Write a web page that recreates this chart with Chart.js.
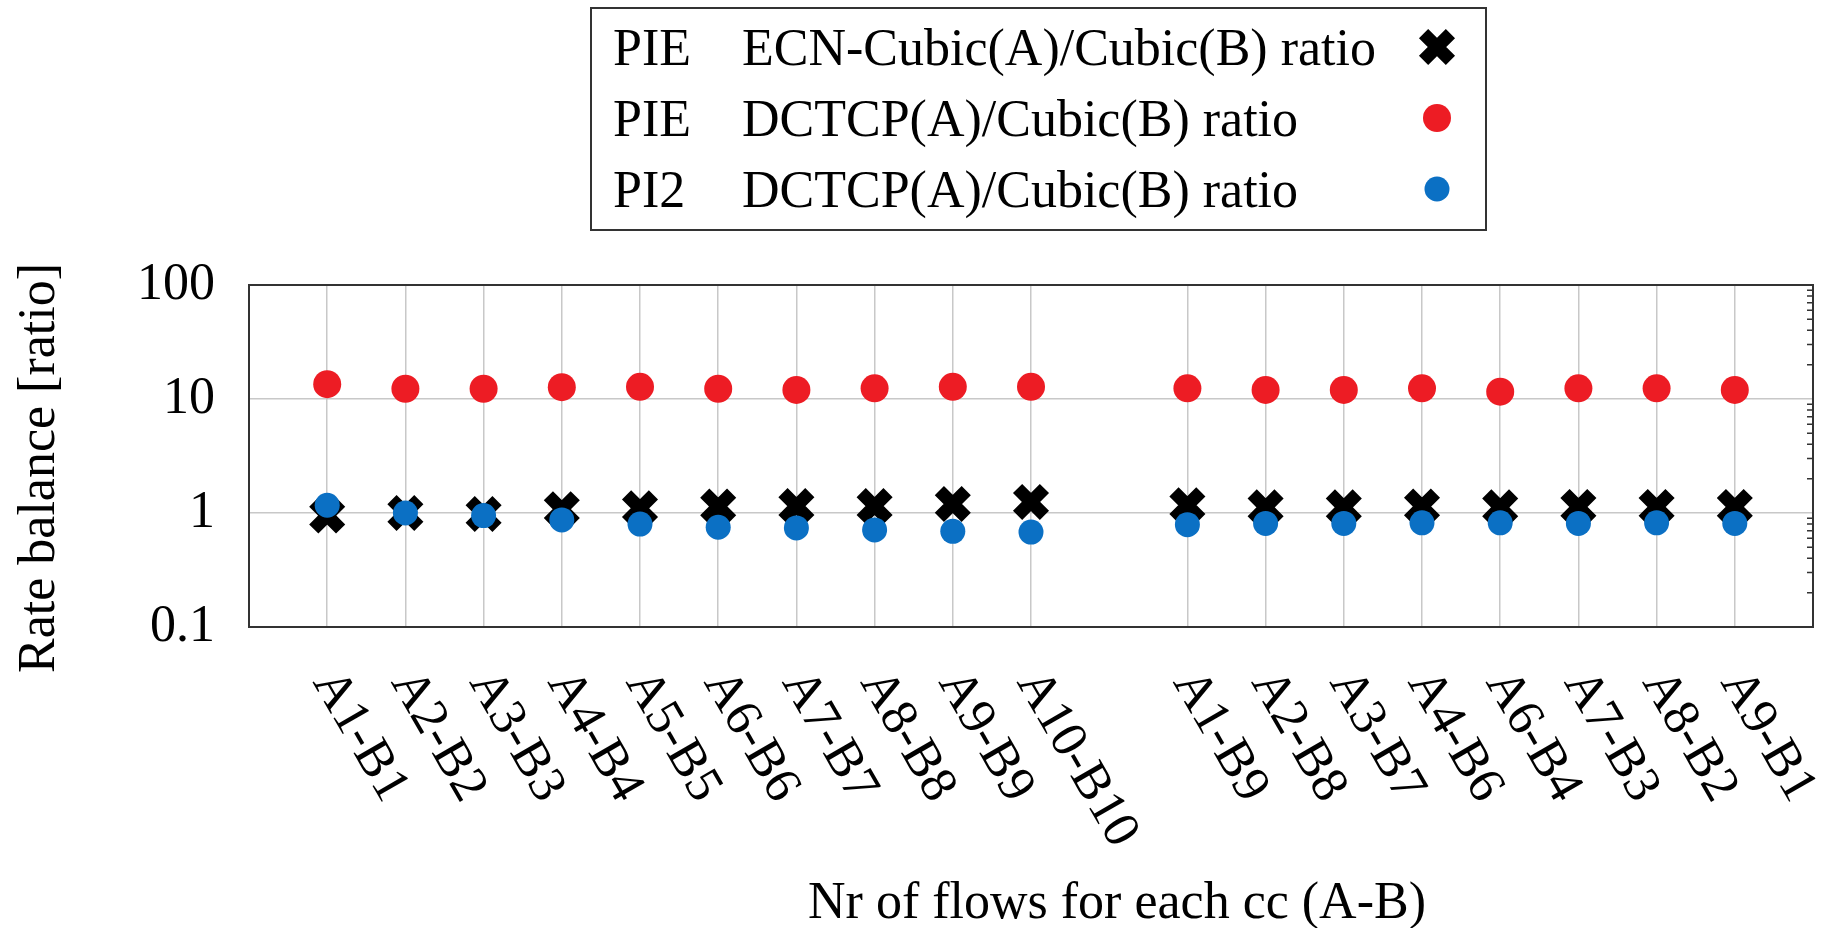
<!DOCTYPE html>
<html>
<head>
<meta charset="utf-8">
<title>Rate balance</title>
<script src="https://cdn.jsdelivr.net/npm/chart.js@4.4.1/dist/chart.umd.min.js"></script>
<style>
  html, body { margin: 0; padding: 0; background: #fff; }
  #wrap { width: 1845px; height: 928px; }
</style>
</head>
<body>
<div id="wrap"><canvas id="rateChart" width="1845" height="928"></canvas></div>
<script>
// runs: first 10 symmetric (A=B), then 8 asymmetric ones
const categories = ['A1-B1', 'A2-B2', 'A3-B3', 'A4-B4', 'A5-B5', 'A6-B6', 'A7-B7', 'A8-B8', 'A9-B9', 'A10-B10',
                    'A1-B9', 'A2-B8', 'A3-B7', 'A4-B6', 'A6-B4', 'A7-B3', 'A8-B2', 'A9-B1'];
const pieEcnCubic = [0.95, 1.0, 0.98, 1.08, 1.1, 1.14, 1.15, 1.15, 1.2, 1.25,
                     1.17, 1.12, 1.12, 1.14, 1.12, 1.13, 1.13, 1.13];
const pieDctcp = [13.5, 12.3, 12.3, 12.7, 12.8, 12.3, 12.0, 12.4, 12.8, 12.8,
                  12.4, 12.0, 12.0, 12.4, 11.6, 12.4, 12.4, 12.0];
const pi2Dctcp = [1.17, 1.0, 0.95, 0.87, 0.8, 0.75, 0.74, 0.71, 0.69, 0.68,
                  0.79, 0.81, 0.81, 0.82, 0.82, 0.81, 0.82, 0.81];
const aqmNames = ['PIE', 'PIE', 'PI2'];
const seriesNames = ['ECN-Cubic(A)/Cubic(B) ratio', 'DCTCP(A)/Cubic(B) ratio', 'DCTCP(A)/Cubic(B) ratio'];
const yTicks = [0.1, 1, 10, 100];
const xTitle = 'Nr of flows for each cc (A-B)';
const yTitle = 'Rate balance [ratio]';

const groupSize = 10;
const serif = '"Liberation Serif", "Times New Roman", serif';
const gridGray = '#c8c8c8';
const frameGray = '#333333';

// empty slot at both ends and between the two groups
function withGap(arr, fill) {
    return [fill, ...arr.slice(0, groupSize), fill, ...arr.slice(groupSize), fill];
}
const slotLabels = withGap(categories, '');

const framePlugin = {
    id: 'frame',
    afterDraw(chart) {
        const ctx = chart.ctx;
        const area = chart.chartArea;
        const xScale = chart.scales.x;
        const yScale = chart.scales.y;

        ctx.save();
        // plot border
        ctx.strokeStyle = frameGray;
        ctx.lineWidth = 2;
        ctx.strokeRect(area.left, area.top, area.right - area.left, area.bottom - area.top);

        // minor log ticks on the right border
        ctx.lineWidth = 1.5;
        ctx.beginPath();
        [0.1, 1, 10].forEach(d => {
            for (let k = 2; k <= 9; k++) {
                const y = yScale.getPixelForValue(d * k);
                ctx.moveTo(area.right - 6, y);
                ctx.lineTo(area.right, y);
            }
        });
        ctx.stroke();

        // rotated category labels
        ctx.fillStyle = '#000';
        ctx.font = '52px ' + serif;
        ctx.textAlign = 'left';
        ctx.textBaseline = 'middle';
        slotLabels.forEach((label, i) => {
            if (!label) return;
            const x = xScale.getPixelForTick(i);
            ctx.save();
            ctx.translate(x - 3, area.bottom + 48);
            ctx.rotate(Math.PI / 3);
            ctx.fillText(label, 0, 0);
            ctx.restore();
        });

        // axis titles
        ctx.textAlign = 'center';
        ctx.textBaseline = 'alphabetic';
        ctx.fillText(xTitle, 1117, 918);
        ctx.save();
        ctx.translate(40, 468);
        ctx.rotate(-Math.PI / 2);
        ctx.textBaseline = 'middle';
        ctx.fillText(yTitle, 0, 0);
        ctx.restore();

        // legend box
        ctx.strokeStyle = frameGray;
        ctx.lineWidth = 2;
        ctx.strokeRect(591, 8, 895, 222);
        ctx.textAlign = 'left';
        ctx.textBaseline = 'alphabetic';
        chart.data.datasets.forEach((ds, i) => {
            const base = 65 + 71 * i;
            ctx.fillStyle = '#000';
            ctx.fillText(aqmNames[i], 613, base);
            ctx.fillText(seriesNames[i], 742, base);
            ctx.fillStyle = ds.backgroundColor;
            ctx.strokeStyle = ds.borderColor;
            ctx.lineWidth = ds.pointBorderWidth;
            Chart.helpers.drawPoint(ctx, {
                pointStyle: ds.pointStyle,
                radius: ds.pointRadius,
                borderWidth: ds.pointBorderWidth,
                rotation: 0
            }, 1437, base - 18);
        });
        ctx.restore();
    }
};

const ctx = document.getElementById('rateChart').getContext('2d');
const chart = new Chart(ctx, {
    type: 'line',
    data: {
        labels: slotLabels,
        datasets: [{
            label: aqmNames[0] + ' ' + seriesNames[0],
            data: withGap(pieEcnCubic, null),
            showLine: false,
            pointStyle: 'crossRot',
            pointRadius: 19,
            pointBorderWidth: 13,
            borderColor: '#000000',
            backgroundColor: '#000000',
            order: 2
        }, {
            label: aqmNames[1] + ' ' + seriesNames[1],
            data: withGap(pieDctcp, null),
            showLine: false,
            pointStyle: 'circle',
            pointRadius: 14,
            pointBorderWidth: 0,
            borderColor: '#ed1c24',
            backgroundColor: '#ed1c24',
            order: 1
        }, {
            label: aqmNames[2] + ' ' + seriesNames[2],
            data: withGap(pi2Dctcp, null),
            showLine: false,
            pointStyle: 'circle',
            pointRadius: 12.5,
            pointBorderWidth: 0,
            borderColor: '#0b70c4',
            backgroundColor: '#0b70c4',
            order: 0
        }]
    },
    options: {
        responsive: false,
        animation: false,
        layout: { padding: { left: 0, top: 285, right: 11, bottom: 0 } },
        plugins: {
            legend: { display: false },
            tooltip: { enabled: false }
        },
        scales: {
            x: {
                type: 'category',
                offset: false,
                ticks: { display: false, autoSkip: false },
                grid: {
                    color: c => (slotLabels[c.index] ? gridGray : 'rgba(0,0,0,0)'),
                    lineWidth: 1.5,
                    drawTicks: false
                },
                border: { display: false },
                afterFit: s => { s.height = 301; }
            },
            y: {
                type: 'logarithmic',
                min: 0.1,
                max: 100,
                afterBuildTicks: s => { s.ticks = yTicks.map(v => ({ value: v })); },
                ticks: {
                    callback: v => String(v),
                    font: { family: serif, size: 52 },
                    color: '#000',
                    padding: 34
                },
                grid: { color: gridGray, lineWidth: 1.5, drawTicks: false },
                border: { display: false },
                afterFit: s => { s.width = 249; }
            }
        }
    },
    plugins: [framePlugin]
});
</script>
</body>
</html>
